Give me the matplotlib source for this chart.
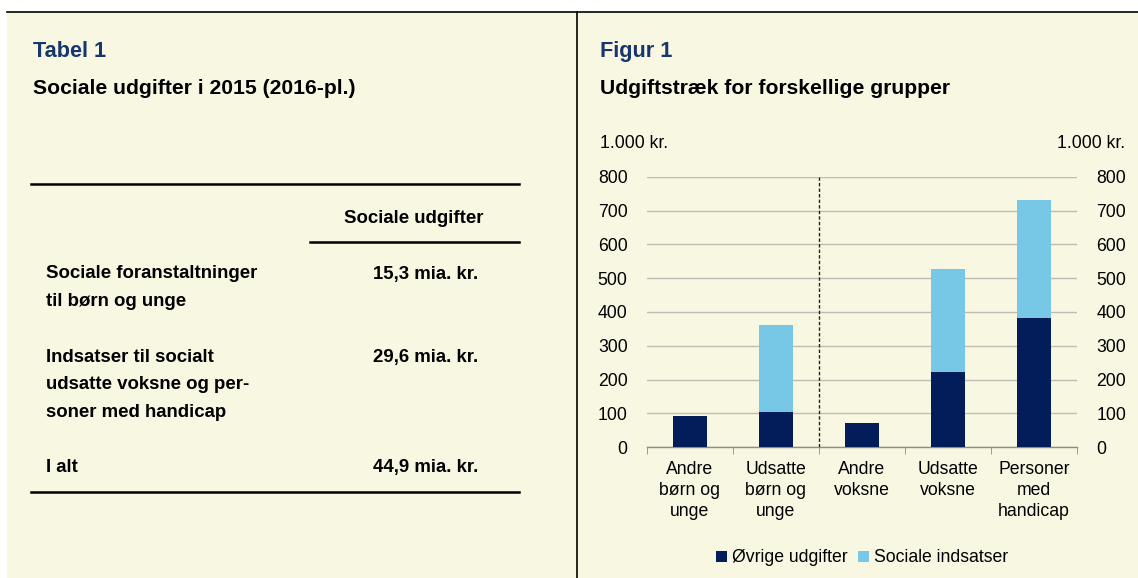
import matplotlib
matplotlib.use("Agg")
import matplotlib.pyplot as plt
from matplotlib.lines import Line2D
from matplotlib.patches import Rectangle, Patch

plt.rcParams['font.family'] = ['Liberation Sans', 'DejaVu Sans']

# ---- data ----
categories = ["Andre\nbørn og\nunge", "Udsatte\nbørn og\nunge", "Andre\nvoksne",
              "Udsatte\nvoksne", "Personer\nmed\nhandicap"]
ovrige = [94, 105, 73, 223, 382]
sociale = [0, 258, 0, 305, 348]
series_names = ["Øvrige udgifter", "Sociale indsatser"]
yticks = [0, 100, 200, 300, 400, 500, 600, 700, 800]

table_header = "Sociale udgifter"
table_rows = ["Sociale foranstaltninger\ntil børn og unge",
              "Indsatser til socialt\nudsatte voksne og per-\nsoner med handicap",
              "I alt"]
table_values = ["15,3 mia. kr.", "29,6 mia. kr.", "44,9 mia. kr."]

# ---- styles ----
W, H = 1138, 578
BG = '#F8F7E1'
DARK = '#031C5A'
LIGHT = '#76C8E6'
TITLE_BLUE = '#17366E'
FS = 12.7     # chart text
TFS = 13.4    # table text

fig = plt.figure(figsize=(W / 100, H / 100), dpi=100)
fig.patch.set_facecolor('white')

def fx(x):
    return x / W

def fy(y):
    return 1 - y / H

# panel background and borders
fig.patches.append(Rectangle((fx(7), 0), 1 - fx(7), fy(11.5), transform=fig.transFigure,
                             facecolor=BG, edgecolor='none', zorder=-10))
fig.lines.append(Line2D([fx(7), 1], [fy(11.5), fy(11.5)], transform=fig.transFigure,
                        color='black', lw=1.2))
fig.lines.append(Line2D([fx(576.5), fx(576.5)], [0, fy(11.5)], transform=fig.transFigure,
                        color='black', lw=1.2))

# ---- left panel: table ----
fig.text(fx(33), fy(51.5), "Tabel 1", color=TITLE_BLUE, fontsize=15.6, fontweight='bold', va='center')
fig.text(fx(33), fy(88.5), "Sociale udgifter i 2015 (2016-pl.)", color='black', fontsize=15.2,
         fontweight='bold', va='center')
fig.lines.append(Line2D([fx(31), fx(519)], [fy(184.5), fy(184.5)], transform=fig.transFigure,
                        color='black', lw=1.8))
fig.text(fx(414), fy(219), table_header, fontsize=TFS, fontweight='bold', ha='center', va='center')
fig.lines.append(Line2D([fx(310), fx(519)], [fy(242.5), fy(242.5)], transform=fig.transFigure,
                        color='black', lw=1.8))
row_y = [273, 356, 466]
for lbl, val, y in zip(table_rows, table_values, row_y):
    fig.text(fx(46), fy(y - 7.5), lbl, fontsize=TFS, fontweight='bold', ha='left', va='top',
             linespacing=1.82)
    fig.text(fx(426), fy(y + 1.5), val, fontsize=TFS, fontweight='bold', ha='center', va='center')
fig.lines.append(Line2D([fx(31), fx(519)], [fy(491.5), fy(491.5)], transform=fig.transFigure,
                        color='black', lw=1.8))

# ---- right panel: chart ----
fig.text(fx(600), fy(51.5), "Figur 1", color=TITLE_BLUE, fontsize=15.6, fontweight='bold', va='center')
fig.text(fx(600), fy(88.5), "Udgiftstræk for forskellige grupper", color='black', fontsize=15.2,
         fontweight='bold', va='center')
fig.text(fx(600), fy(143), "1.000 kr.", fontsize=FS, va='center', ha='left')
fig.text(fx(1125), fy(143), "1.000 kr.", fontsize=FS, va='center', ha='right')

ax = fig.add_axes([fx(647), fy(447.3), fx(1077) - fx(647), fy(176.7) - fy(447.3)])
ax.set_facecolor('none')
x = list(range(len(categories)))
ax.bar(x, ovrige, width=0.4, color=DARK, zorder=3, label=series_names[0])
ax.bar(x, sociale, width=0.4, bottom=ovrige, color=LIGHT, zorder=3, label=series_names[1])
ax.set_xlim(-0.5, len(categories) - 0.5)
ax.set_ylim(0, 800)
ax.set_yticks(yticks)
ax.yaxis.grid(True, color='#BDBDB5', lw=1, zorder=1)
ax.set_axisbelow(True)
ax.axvline(1.5, color='#222222', lw=1, linestyle=(0, (2.5, 1.5)), zorder=4)

for s in ['top', 'left', 'right']:
    ax.spines[s].set_visible(False)
ax.spines['bottom'].set_color('#8C8C8C')
ax.spines['bottom'].set_linewidth(1)

ax.set_xticks(x)
ax.set_xticklabels(categories, fontsize=FS, linespacing=1.3)
ax.tick_params(axis='x', which='major', length=0, pad=10)
ax.set_xticks([i - 0.5 for i in range(len(categories) + 1)], minor=True)
ax.tick_params(axis='x', which='minor', length=5, color='#8C8C8C', direction='out')

ax.tick_params(axis='y', length=0, labelsize=FS, pad=14, left=True, right=False,
               labelleft=True, labelright=False)
ax2 = ax.twinx()
ax2.set_ylim(ax.get_ylim())
ax2.set_yticks(yticks)
ax2.tick_params(axis='y', length=0, labelsize=FS, pad=14)
for s in ['top', 'left', 'right', 'bottom']:
    ax2.spines[s].set_visible(False)

handles = [Patch(facecolor=DARK, label=series_names[0]),
           Patch(facecolor=LIGHT, label=series_names[1])]
fig.legend(handles=handles, loc='center', bbox_to_anchor=(fx(862), fy(558)), ncol=2,
           frameon=False, fontsize=FS, handlelength=0.6, handleheight=0.6,
           handletextpad=0.3, columnspacing=0.6)

fig.savefig('out.png', dpi=100, facecolor=fig.get_facecolor())
